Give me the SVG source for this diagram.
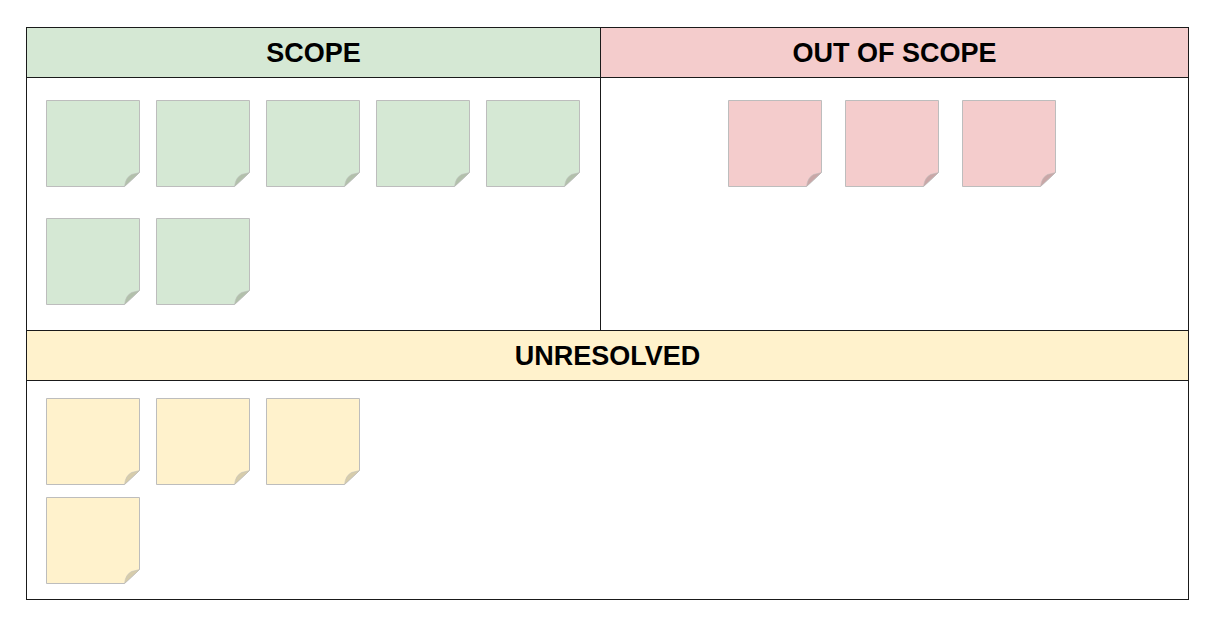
<svg xmlns="http://www.w3.org/2000/svg" width="1220" height="634" viewBox="0 0 1220 634">
<style>
.hdr{stroke:#1a1a1a;stroke-width:1}
.t{font-family:"Liberation Sans",Arial,sans-serif;font-weight:bold;font-size:27px;fill:#000;text-anchor:middle}
.line{fill:none;stroke:#1a1a1a;stroke-width:1}
.body{stroke:#bdbdbd;stroke-width:1}
.g .body{fill:#d5e8d4}.g .fold{fill:#b2c0ab}
.r .body{fill:#f4cccc}.r .fold{fill:#c9a7a7}
.y .body{fill:#fff2cc}.y .fold{fill:#d6ccab}
.fold{stroke:#bdbdbd;stroke-width:0.5}
</style>
<rect width="1220" height="634" fill="#fff"/>
<g id="frame">
<rect x="26.5" y="27.5" width="1162" height="572" fill="#fff" class="line"/>
<rect id="scope-header" x="26.5" y="27.5" width="574" height="50" fill="#d5e8d4" class="hdr"/>
<rect id="out-header" x="600.5" y="27.5" width="588" height="50" fill="#f4cccc" class="hdr"/>
<line x1="600.5" y1="77.5" x2="600.5" y2="330.5" class="line"/>
<rect id="unres-header" x="26.5" y="330.5" width="1162" height="50" fill="#fff2cc" class="hdr"/>
<text x="313.5" y="62" class="t">SCOPE</text>
<text x="894.5" y="62" class="t">OUT OF SCOPE</text>
<text x="607.5" y="365" class="t">UNRESOLVED</text>
</g>
<g id="scope-notes" class="g">
<g id="s1" transform="translate(46.5,100.5)"><path class="body" d="M0,0H93V72L78,86H0Z"/><path class="fold" d="M93,72L78,86Q79,77 85,74Z"/></g>
<g id="s2" transform="translate(156.5,100.5)"><path class="body" d="M0,0H93V72L78,86H0Z"/><path class="fold" d="M93,72L78,86Q79,77 85,74Z"/></g>
<g id="s3" transform="translate(266.5,100.5)"><path class="body" d="M0,0H93V72L78,86H0Z"/><path class="fold" d="M93,72L78,86Q79,77 85,74Z"/></g>
<g id="s4" transform="translate(376.5,100.5)"><path class="body" d="M0,0H93V72L78,86H0Z"/><path class="fold" d="M93,72L78,86Q79,77 85,74Z"/></g>
<g id="s5" transform="translate(486.5,100.5)"><path class="body" d="M0,0H93V72L78,86H0Z"/><path class="fold" d="M93,72L78,86Q79,77 85,74Z"/></g>
<g id="s6" transform="translate(46.5,218.5)"><path class="body" d="M0,0H93V72L78,86H0Z"/><path class="fold" d="M93,72L78,86Q79,77 85,74Z"/></g>
<g id="s7" transform="translate(156.5,218.5)"><path class="body" d="M0,0H93V72L78,86H0Z"/><path class="fold" d="M93,72L78,86Q79,77 85,74Z"/></g>
</g>
<g id="out-notes" class="r">
<g id="o1" transform="translate(728.5,100.5)"><path class="body" d="M0,0H93V72L78,86H0Z"/><path class="fold" d="M93,72L78,86Q79,77 85,74Z"/></g>
<g id="o2" transform="translate(845.5,100.5)"><path class="body" d="M0,0H93V72L78,86H0Z"/><path class="fold" d="M93,72L78,86Q79,77 85,74Z"/></g>
<g id="o3" transform="translate(962.5,100.5)"><path class="body" d="M0,0H93V72L78,86H0Z"/><path class="fold" d="M93,72L78,86Q79,77 85,74Z"/></g>
</g>
<g id="unres-notes" class="y">
<g id="u1" transform="translate(46.5,398.5)"><path class="body" d="M0,0H93V72L78,86H0Z"/><path class="fold" d="M93,72L78,86Q79,77 85,74Z"/></g>
<g id="u2" transform="translate(156.5,398.5)"><path class="body" d="M0,0H93V72L78,86H0Z"/><path class="fold" d="M93,72L78,86Q79,77 85,74Z"/></g>
<g id="u3" transform="translate(266.5,398.5)"><path class="body" d="M0,0H93V72L78,86H0Z"/><path class="fold" d="M93,72L78,86Q79,77 85,74Z"/></g>
<g id="u4" transform="translate(46.5,497.5)"><path class="body" d="M0,0H93V72L78,86H0Z"/><path class="fold" d="M93,72L78,86Q79,77 85,74Z"/></g>
</g>
<g id="connectors"/>
</svg>
